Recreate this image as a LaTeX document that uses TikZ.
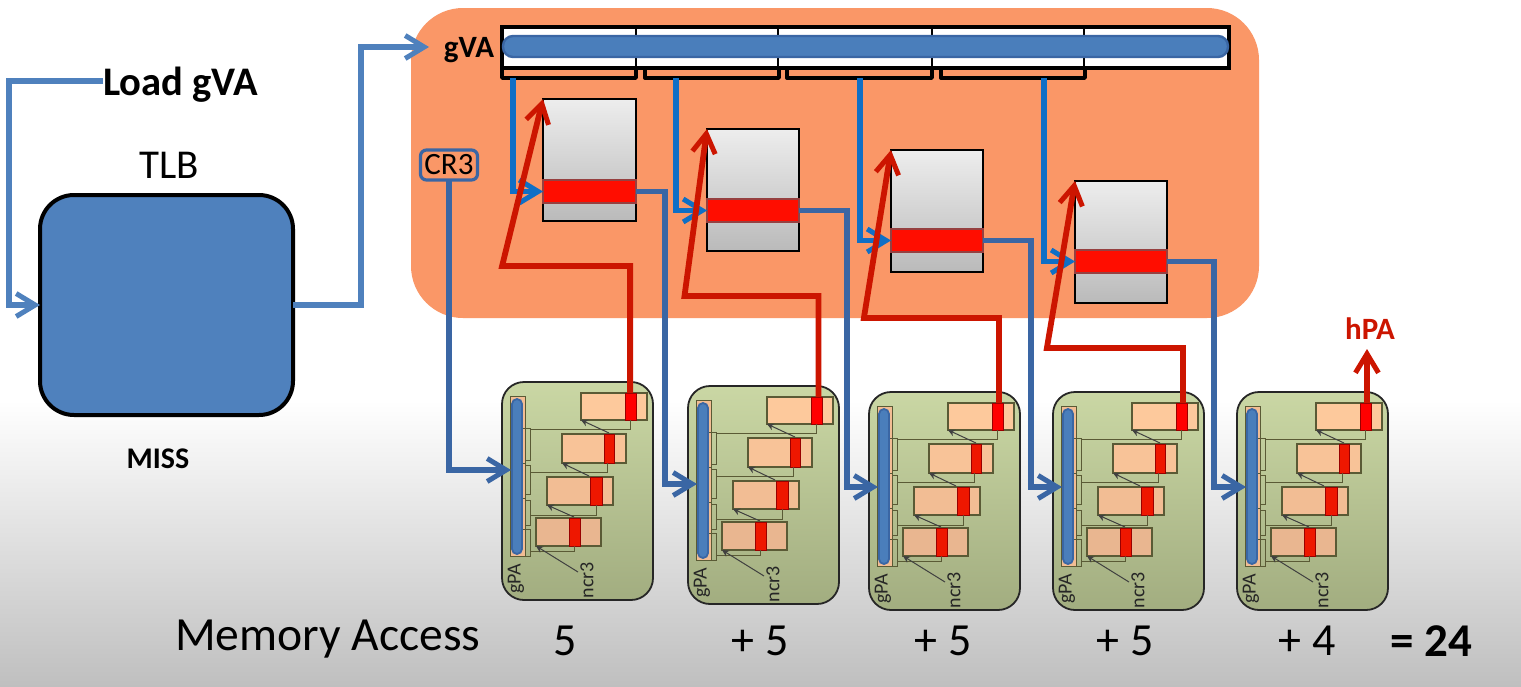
\documentclass[tikz,border=0pt]{standalone}
\usepackage{fontspec}
\setmainfont{Carlito}
\usetikzlibrary{arrows.meta,shadows}
\definecolor{orangebg}{HTML}{FA9767}
\definecolor{lightblue}{HTML}{4F81BD}
\definecolor{tapblue}{HTML}{0F6FC6}
\definecolor{steelblue}{HTML}{3A66A4}
\definecolor{barblue}{HTML}{4A7EBB}
\definecolor{arrowred}{HTML}{CC1500}
\definecolor{cellred}{HTML}{EE1700}
\definecolor{paneledge}{HTML}{5A5A35}
\definecolor{paneltop}{HTML}{CAD7A4}
\definecolor{panelbot}{HTML}{A2AD80}
\definecolor{peacha}{HTML}{FDC99C}
\definecolor{peachb}{HTML}{F8C398}
\definecolor{peachc}{HTML}{F2BD94}
\definecolor{peachd}{HTML}{E9B690}
\newcommand\pxf[1]{\fontsize{#1}{#1}\selectfont}
\newcommand\bx[6][]{\node[bxbase,#1,minimum width={(#5-#3)*0.5pt},minimum height={(#6-#4)*0.5pt}] (#2) at ({(#3+#5)/2},{(#4+#6)/2}) {};}
\tikzset{
  bxbase/.style={rectangle,inner sep=0pt,outer sep=0pt},
  txt/.style={inner sep=0pt,outer sep=0pt,text=black},
  barb/.style={-{Straight Barb[length=9.5pt,width=11.5pt,line width=2.5pt]}},
  lightline/.style={draw=lightblue,line width=2.6pt,line join=miter,barb},
  tapline/.style={draw=tapblue,line width=2.9pt,line join=miter,barb},
  steelline/.style={draw=steelblue,line width=2.6pt,line join=miter,barb},
  redline/.style={draw=arrowred,line width=2.9pt,line join=miter,barb},
  gcell/.style={draw=black,line width=0.6pt,fill=white},
  gvaframe/.style={draw=black,line width=1.8pt},
  gbracket/.style={draw=black,line width=1.7pt,line join=round},
  ptbox/.style={draw=black,line width=0.9pt,top color=black!7,bottom color=black!27,drop shadow={opacity=0.35,shadow xshift=0.6pt,shadow yshift=-0.6pt}},
  ptred/.style={draw=red!45!black!75,line width=1.2pt,fill=red!90!orange},
  panelbox/.style={draw=black!85,line width=0.9pt,rounded corners=11pt,top color=paneltop,bottom color=panelbot},
  strip/.style={draw=paneledge,line width=0.4pt,fill=peachc},
  tabbox/.style={draw=paneledge,line width=0.7pt},
  tabred/.style={draw=black!40!red,line width=0.4pt,fill=cellred},
  thin1/.style={draw=paneledge,line width=0.5pt},
  ptr/.style={draw=black!75,line width=0.5pt,-{Stealth[length=3.5pt,width=3.5pt]}},
  smalltxt/.style={txt,rotate=90,text=black!85,font=\pxf{10}},
}
% #1 id, #2 x, #3 y
\newcommand\gpanel[3]{%
\begin{scope}[shift={(#2,#3)}]
 \bx[panelbox]{#1box}{0}{0}{151}{218}
 \bx[strip]{#1strip}{8}{14}{23}{174}
 \draw[thin1] (8,46)--(23,46) (8,81)--(23,81) (8,116)--(23,116) (8,147)--(23,147);
 \draw[thin1] (23,46)--(28,46)--(28,78)--(23,78) (23,83)--(28,83)--(28,112)--(23,112)
   (23,118)--(28,118)--(28,143)--(23,143) (23,147)--(28,147)--(28,174)--(23,174);
 \bx[tabbox,fill=peacha]{#1ta}{79}{11}{145}{38}
 \bx[tabbox,fill=peachb]{#1tb}{60}{52}{124}{81}
 \bx[tabbox,fill=peachc]{#1tc}{45}{95}{111}{123}
 \bx[tabbox,fill=peachd]{#1td}{34}{136}{99}{164}
 \bx[tabred,fill=red]{#1ra}{123}{11}{134}{38}
 \bx[tabred]{#1rb}{102}{52}{112}{81}
 \bx[tabred]{#1rc}{88}{95}{100}{123}
 \bx[tabred]{#1rd}{67}{136}{78}{164}
 \draw[thin1] (28,47)-|(128,38);
 \draw[thin1] (28,90)-|(105,81);
 \draw[thin1] (28,133)-|(94,123);
 \draw[thin1] (28,169)-|(72,164);
 \coordinate (#1pa) at (107,51);
 \coordinate (#1pb) at (87,94);
 \coordinate (#1pc) at (72,135);
 \coordinate (#1pd) at (76,190);
 \draw[ptr] (#1pa)--(#1ta.south west);
 \draw[ptr] (#1pb)--(#1tb.south west);
 \draw[ptr] (#1pc)--(#1tc.south west);
 \draw[ptr] (#1pd)--(#1td.south west);
 \node[smalltxt] (#1gpa) at (14,197) {gPA};
 \node[smalltxt] (#1ncr) at (85,198) {ncr3};
 \bx[draw=steelblue,line width=0.9pt,fill=barblue,rounded corners=2.5pt]{#1bar}{10}{17}{20}{172}
\end{scope}}
\begin{document}
\begin{tikzpicture}[x=0.5pt,y=-0.5pt]
\useasboundingbox (0,0) rectangle (1521,686);
\fill[white] (0,0) rectangle (1521,400);
\shade[top color=white,bottom color=black!25] (0,400) rectangle (1521,686);

% orange panel
\bx[fill=orangebg,rounded corners=26pt]{osbox}{411}{8}{1259}{318}

% TLB
\bx[draw=black,line width=2pt,fill=lightblue,rounded corners=17pt]{tlb}{40}{195}{293}{415}
\node[txt,font=\pxf{20.5}] (tlblabel) at (169,165) {TLB};
\node[txt,font=\pxf{15}\bfseries] (miss) at (158,459) {MISS};
\node[txt,anchor=west,font=\pxf{20.3}\bfseries] (load) at (103,85) {Load gVA};

% gVA table
\bx[gcell]{ca}{502}{27}{636}{68}
\bx[gcell]{cb}{636}{27}{778}{68}
\bx[gcell]{cc}{778}{27}{932}{68}
\bx[gcell]{cd}{932}{27}{1084}{68}
\bx[gcell]{ce}{1084}{27}{1229}{68}
\bx[gvaframe]{gvarow}{502}{27}{1229}{68}
\draw[gbracket] (502,68)--(502,78)--(636,78)--(636,68);
\draw[gbracket] (645,68)--(645,78)--(779,78)--(779,68);
\draw[gbracket] (787,68)--(787,78)--(932,78)--(932,68);
\draw[gbracket] (941,68)--(941,78)--(1085,78)--(1085,68);
\bx[draw=steelblue,line width=1.2pt,fill=barblue,rounded corners=5pt]{gbar}{503}{36}{1228}{57}
\node[txt,font=\pxf{15.5}\bfseries] (gva) at (469,50) {gVA};

% page tables
\bx[ptbox]{pta}{543}{99}{636}{221}
\bx[ptbox]{ptb}{707}{129}{799}{251}
\bx[ptbox]{ptc}{891}{150}{983}{272}
\bx[ptbox]{ptd}{1075}{181}{1167}{303}
\bx[ptred]{pra}{543}{180}{636}{203}
\bx[ptred]{prb}{707}{199}{799}{222}
\bx[ptred]{prc}{891}{229}{983}{252}
\bx[ptred]{prd}{1075}{250}{1167}{273}

% CR3
\node[bxbase,draw=steelblue,line width=1.6pt,rounded corners=3pt,fill=orangebg,minimum width=28.5pt,minimum height=15pt,font=\pxf{15.5},text=black] (cr3) at (449,165) {CR3};

% panels
\gpanel{pa}{502}{382}
\gpanel{pb}{688}{386}
\gpanel{pc}{869}{392}
\gpanel{pd}{1053}{392}
\gpanel{pe}{1237}{392}

% connectors
\draw[lightline] ([yshift=2pt]load.west) -- ++(-94,0) |- (tlb.west);
\coordinate (gvain) at (429,47);
\draw[lightline] (tlb.east) -- ++(68,0) |- (gvain);

\coordinate (tapa) at (513,78);
\coordinate (tapb) at (676,78);
\coordinate (tapc) at (860,78);
\coordinate (tapd) at (1044,78);
\draw[tapline] (tapa) |- (pra.west);
\draw[tapline] (tapb) |- (prb.west);
\draw[tapline] (tapc) |- (prc.west);
\draw[tapline] (tapd) |- (prd.west);

\coordinate (ina) at (511,470);
\coordinate (inb) at (697,484);
\coordinate (inc) at (878,487);
\coordinate (ind) at (1062,487);
\coordinate (ine) at (1246,487);
\draw[steelline] (cr3.south) |- (ina);
\draw[steelline] (pra.east) -- ++(29,0) |- (inb);
\draw[steelline] (prb.east) -- ++(48,0) |- (inc);
\draw[steelline] (prc.east) -- ++(48,0) |- (ind);
\draw[steelline] (prd.east) -- ++(47,0) |- (ine);

\draw[redline] ([xshift=-0.2pt]para.north) -- ++(0,-127) -- ++(-128,0) -- (pta.north west);
\draw[redline] ([xshift=1pt]pbra.north) -- ++(0,-101) -- ++(-134,0) -- (ptb.north west);
\draw[redline] ([xshift=0.7pt]pcra.north) -- ++(0,-85) -- ++(-135,0) -- (ptc.north west);
\draw[redline] ([xshift=0.7pt]pdra.north) -- ++(0,-55) -- ++(-136,0) -- (ptd.north west);
\coordinate (hpatip) at (1367,349);
\draw[redline] ([xshift=0.7pt]pera.north) -- (hpatip);
\node[txt,font=\pxf{15.5}\bfseries,text=arrowred] (hpa) at (1370,329) {hPA};

% bottom texts
\node[txt,anchor=west,font=\pxf{23.8}] (mem) at (175,639) {Memory Access};
\node[txt,font=\pxf{23}] (na) at (565,641) {5};
\node[txt,font=\pxf{23}] (nb) at (760,641) {+ 5};
\node[txt,font=\pxf{23}] (nc) at (943,641) {+ 5};
\node[txt,font=\pxf{23}] (nd) at (1125,641) {+ 5};
\node[txt,font=\pxf{23}] (ne) at (1307,641) {+ 4};
\node[txt,font=\pxf{23.5}\bfseries] (total) at (1431,641) {= 24};
\end{tikzpicture}
\end{document}
